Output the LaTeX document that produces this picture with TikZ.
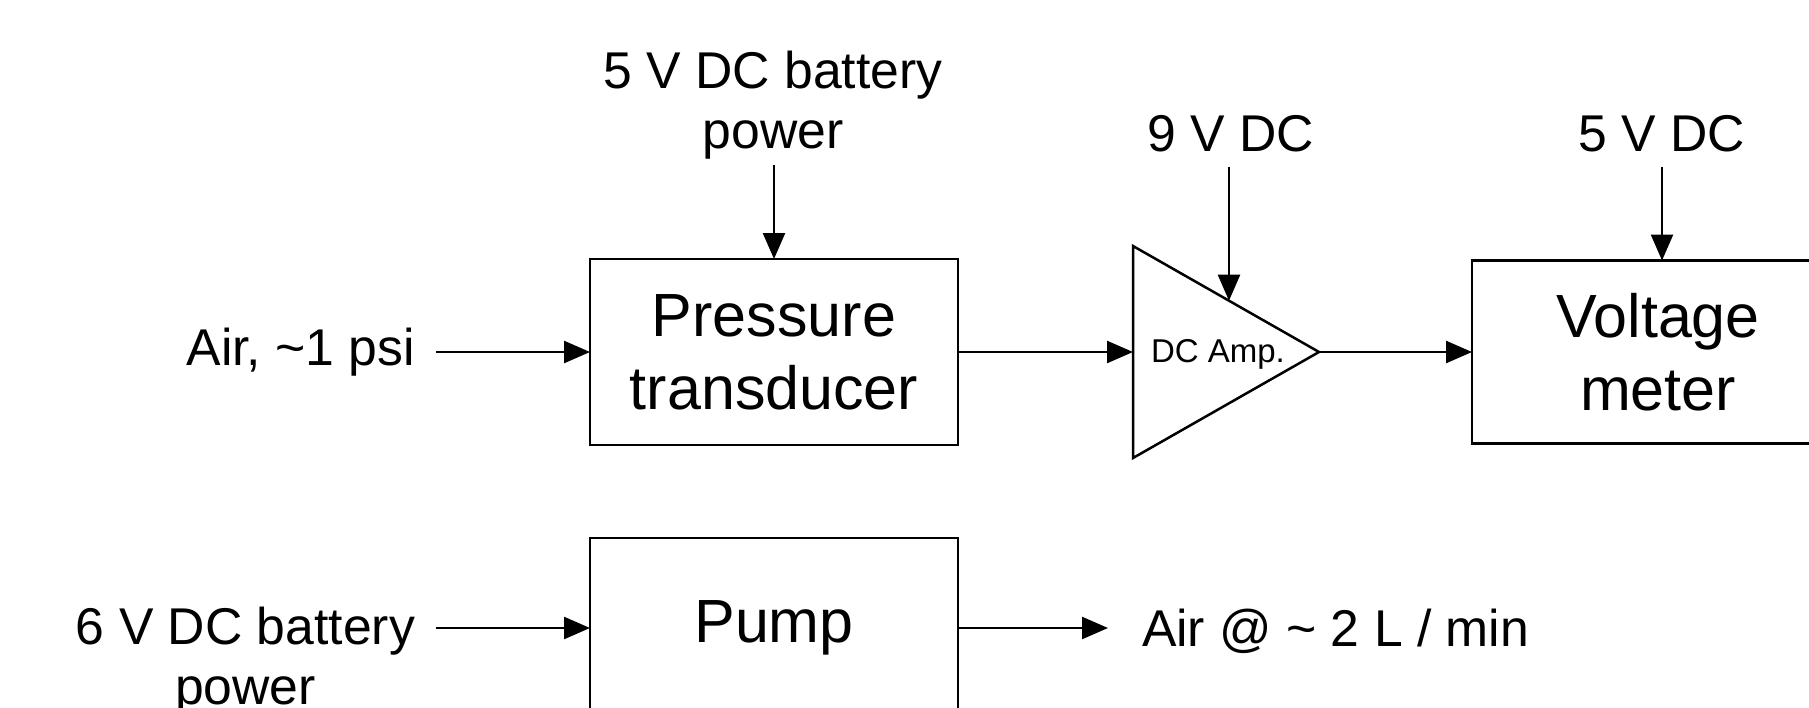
\documentclass[tikz,border=0pt]{standalone}
\usepackage{fontspec}
\setmainfont{Liberation Sans}
\usetikzlibrary{arrows.meta,calc}
\begin{document}
\begin{tikzpicture}[x=1pt,y=-1pt,
  lbl/.style={font=\fontsize{51.7}{60}\selectfont, inner sep=0pt, outer sep=0pt, align=center},
  blk/.style={draw, line width=2.5pt, inner sep=0pt, outer sep=0pt, align=center,
              font=\fontsize{61}{73}\selectfont},
  arr/.style={line width=2.5pt, -{Triangle[length=26pt,width=22pt]}},
  amptxt/.style={font=\fontsize{33}{40}\selectfont, inner sep=0pt}
]
\useasboundingbox (0,0) rectangle (1809,707);
\clip (0,0) rectangle (1809,707);

% blocks
\node[blk, minimum width=368pt, minimum height=186pt] (pt) at (774,352) {Pressure\\transducer};
\node[blk, minimum width=372pt, minimum height=183pt] (vm) at (1658,352) {Voltage\\meter};
\node[blk, minimum width=368pt, minimum height=180pt] (pump) at (774,628) {Pump};

% amplifier triangle
\coordinate (atop) at (1133,246);
\coordinate (abot) at (1133,458);
\coordinate (aout) at (1319,352);
\coordinate (ain) at (1133,352);
\draw[line width=2.5pt, line join=miter] (atop) -- (aout) -- (abot) -- cycle;
\node[amptxt] (amp) at (1218,354) {DC Amp.};
\coordinate (amptop) at ($(atop)!0.516!(aout)$);

% labels
\node[lbl, anchor=base] (p5) at (773,148) {5 V DC battery\\power};
\node[lbl, anchor=base] (v9) at (1231,151) {9 V DC};
\node[lbl, anchor=base] (v5) at (1662,151) {5 V DC};
\node[lbl, anchor=east] (air) at (415,352) {Air, \textasciitilde 1 psi};
\node[lbl, anchor=base east] (p6) at (415,704) {6 V DC battery\\power};
\node[lbl, anchor=base west] (airout) at (1142,646) {Air @ \textasciitilde\ 2 L / min};

% connectors
\draw[arr] ($(pt.north |- p5.south)+(0,6)$) -- (pt.north);
\draw[arr] ($(amptop |- v9.south)+(0,15)$) -- (amptop);
\draw[arr] ($(v5.south)+(0,15)$) -- (v5.south |- vm.north);
\draw[arr] ($(pt.west -| air.east)+(21,0)$) -- (pt.west);
\draw[arr] (pt.east) -- (ain);
\draw[arr] (aout) -- (vm.west);
\draw[arr] ($(pump.west -| p6.east)+(21,0)$) -- (pump.west);
\draw[arr] (pump.east) -- ($(pump.east -| airout.west)+(-34,0)$);
\end{tikzpicture}
\end{document}
